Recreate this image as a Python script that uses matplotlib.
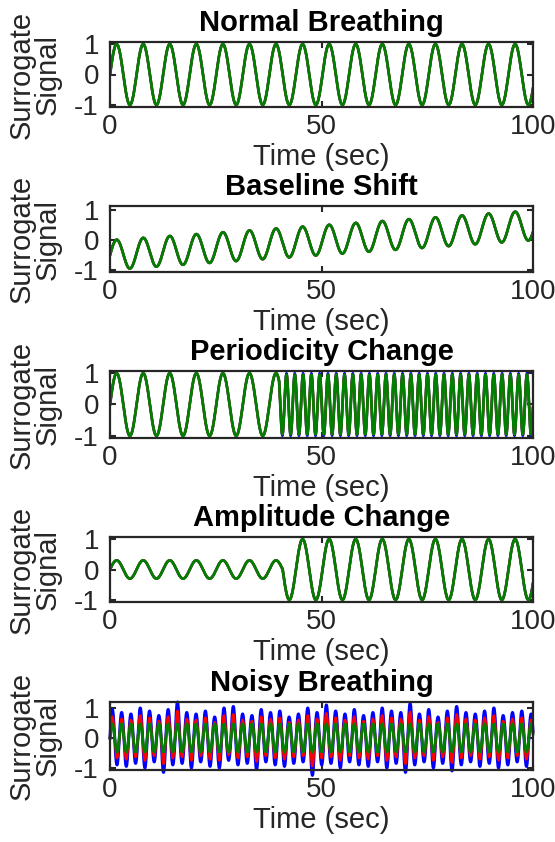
import numpy as np
import matplotlib
matplotlib.use("Agg")
import matplotlib.pyplot as plt

plt.rcParams.update({
    'font.family': ['Liberation Sans', 'DejaVu Sans'],
    'font.size': 21,
    'axes.unicode_minus': False,
})

# --- data ---
titles = ['Normal Breathing', 'Baseline Shift', 'Periodicity Change',
          'Amplitude Change', 'Noisy Breathing']
time_end = 100
n_samples = 6001

# normal breathing
normal_period = 6.28
normal_amp = 1.0

# baseline shift: sine riding on a slow linear drift
shift_amp = 0.5
shift_base_start = -0.5
shift_base_end = 0.5

# periodicity change: slow breathing, then fast after the change
period_change_time = 40.0
period_before = 6.28
period_after = 1.96
period_amp_blue = 1.0
period_amp_green = 0.95

# amplitude change: shallow, then deep breathing
amp_change_time = 40.8
amp_before = 0.3
amp_after = 1.0

# noisy breathing: blue = raw, red = partly filtered, green = filtered
noisy_period = 2.2
noisy_blue_peaks = [0.95, 0.85, 0.8, 1.0, 0.9, 0.75, 0.95, 1.2, 0.85, 0.8,
                    0.9, 0.7, 1.0, 1.05, 0.8, 0.75, 0.95, 0.85, 0.9, 0.7,
                    0.8, 1.0, 0.85, 1.1, 0.9, 0.8, 0.95, 0.75, 0.85, 1.0,
                    0.9, 0.85, 1.15, 0.8, 0.95, 0.7, 0.9, 1.05, 0.85, 0.8,
                    0.9, 1.0, 0.75, 0.85, 0.9, 0.8]
noisy_blue_troughs = [-0.9, -0.95, -0.85, -1.0, -0.8, -1.15, -0.9, -0.85, -1.0, -0.8,
                      -0.95, -1.0, -0.75, -0.9, -0.85, -1.05, -0.8, -0.9, -0.95, -0.85,
                      -0.8, -1.25, -0.9, -0.85, -1.0, -0.8, -0.9, -0.95, -0.8, -1.0,
                      -0.85, -1.15, -0.9, -0.8, -1.0, -0.85, -1.1, -0.9, -0.8, -0.95,
                      -0.85, -1.0, -0.9, -0.8, -0.95, -0.9]
noisy_red_scale = 0.75
noisy_green_amp = 0.47

y_ticks = [-1, 0, 1]
x_ticks = [0, 50, 100]

# --- build the curves ---
t = np.linspace(0, time_end, n_samples)

normal = normal_amp * np.sin(2 * np.pi * t / normal_period)

base = shift_base_start + (shift_base_end - shift_base_start) * t / time_end
shifted = base + shift_amp * np.sin(2 * np.pi * t / normal_period)

ph_c = 2 * np.pi * period_change_time / period_before
phase = np.where(t < period_change_time, 2 * np.pi * t / period_before,
                 ph_c + 2 * np.pi * (t - period_change_time) / period_after)
per_blue = np.where(t < period_change_time, 1.0, period_amp_blue) * np.sin(phase)
per_green = np.where(t < period_change_time, 1.0, period_amp_green) * np.sin(phase)

amp = np.where(t < amp_change_time, amp_before, amp_after) * np.sin(2 * np.pi * t / normal_period)

nphase = 2 * np.pi * t / noisy_period
half = np.floor(nphase / np.pi).astype(int)
cyc = np.clip(half // 2, 0, len(noisy_blue_peaks) - 1)
env = np.where(half % 2 == 0, np.array(noisy_blue_peaks)[cyc],
               -np.array(noisy_blue_troughs)[cyc])
noisy_blue = env * np.sin(nphase)
noisy_red = noisy_red_scale * noisy_blue
noisy_green = noisy_green_amp * np.sin(nphase)

series = [
    (normal, normal, normal),
    (shifted, shifted, shifted),
    (per_blue, per_green, per_green),
    (amp, amp, amp),
    (noisy_blue, noisy_red, noisy_green),
]

# --- layout (pixels of a 555x842 figure) ---
W, H = 555, 842
ax_left, ax_right = 110, 533
panels = [(42, 107), (206, 272), (371, 438), (537, 602), (702, 770)]
ylims = [(-1.07, 1.07), (-1.07, 1.15), (-1.07, 1.07), (-1.07, 1.07), (-1.07, 1.2)]

fig = plt.figure(figsize=(W / 100, H / 100), dpi=100)
dark = '#262626'

for i, (top, bot) in enumerate(panels):
    ax = fig.add_axes([ax_left / W, 1 - bot / H, (ax_right - ax_left) / W, (bot - top) / H])
    blue, red, green = series[i]
    clip = i != 4
    ax.plot(t, blue, color='blue', lw=2.2 if i == 4 else 1.8, clip_on=clip)
    ax.plot(t, red, color='red', lw=1.8, clip_on=clip)
    ax.plot(t, green, color='green', lw=2.0, clip_on=clip)

    ax.set_xlim(0, time_end)
    ax.set_ylim(*ylims[i])
    ax.set_xticks(x_ticks)
    ax.set_yticks(y_ticks)
    ax.tick_params(direction='in', length=4, width=1.5, colors=dark,
                   top=True, right=True, labelsize=20)
    ax.tick_params(axis='x', pad=5)
    ax.tick_params(axis='y', pad=8)
    for s in ax.spines.values():
        s.set_linewidth(1.6)
        s.set_color(dark)
    ax.set_title(titles[i], fontsize=21, fontweight='bold', pad=8)
    ax.set_xlabel('Time (sec)', color=dark, labelpad=2)
    ax.set_ylabel('Surrogate\nSignal', color=dark, linespacing=0.9)
    ax.yaxis.set_label_coords(-0.115, 0.5)

fig.savefig('out.png', dpi=100)
